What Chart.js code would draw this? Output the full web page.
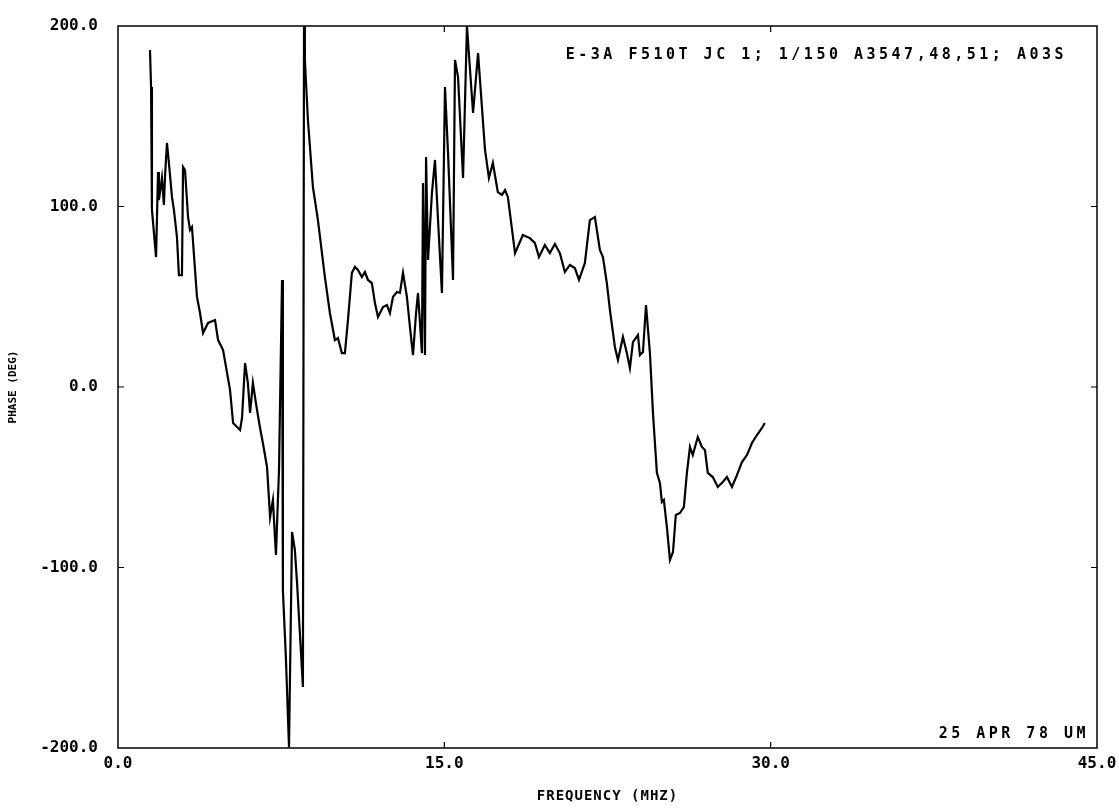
<!DOCTYPE html>
<html>
<head>
<meta charset="utf-8">
<script src="https://cdn.jsdelivr.net/npm/chart.js@4.4.1/dist/chart.umd.min.js"></script>
<style>
  html, body { margin: 0; padding: 0; background: #fff; }
  #wrap { width: 1119px; height: 808px; }
</style>
</head>
<body>
<div id="wrap"><canvas id="phaseChart" width="1119" height="808"></canvas></div>
<script>
// frequency (MHz) and phase (deg)
const freqs = [
  1.47, 1.52, 1.56, 1.75, 1.84, 1.88, 2.02, 2.11, 2.16, 2.25, 2.34, 2.48, 2.57, 2.71, 2.80, 2.94,
  2.99, 3.08, 3.22, 3.31, 3.40, 3.63, 3.77, 3.91, 4.14, 4.46, 4.60, 4.83, 5.15, 5.29, 5.61, 5.70,
  5.84, 5.97, 6.07, 6.20, 6.39, 6.53, 6.66, 6.85, 6.99, 7.12, 7.26, 7.40, 7.54, 7.58, 7.72, 7.86,
  8.00, 8.13, 8.23, 8.50, 8.55, 8.59, 8.73, 8.96, 9.19, 9.51, 9.74, 9.97, 10.11, 10.29, 10.43, 10.57,
  10.75, 10.89, 11.03, 11.21, 11.35, 11.49, 11.67, 11.81, 11.95, 12.18, 12.36, 12.50, 12.64, 12.82,
  12.96, 13.10, 13.28, 13.42, 13.56, 13.70, 13.79, 13.97, 14.02, 14.11, 14.16, 14.25, 14.43, 14.57,
  14.71, 14.89, 15.03, 15.17, 15.40, 15.49, 15.63, 15.86, 16.04, 16.32, 16.55, 16.87, 17.05, 17.23,
  17.46, 17.65, 17.79, 17.92, 18.25, 18.61, 18.93, 19.16, 19.35, 19.62, 19.85, 20.08, 20.31, 20.54,
  20.77, 21.00, 21.19, 21.46, 21.69, 21.92, 22.15, 22.29, 22.47, 22.61, 22.84, 22.98, 23.21, 23.39,
  23.53, 23.67, 23.90, 23.99, 24.13, 24.27, 24.45, 24.59, 24.77, 24.91, 25.00, 25.09, 25.23, 25.37,
  25.51, 25.64, 25.83, 26.01, 26.15, 26.29, 26.42, 26.65, 26.84, 26.98, 27.11, 27.34, 27.57, 27.80,
  27.99, 28.22, 28.45, 28.68, 28.91, 29.14, 29.37, 29.60, 29.73
];
const phases = [
  186.7, 166.2, 98.1, 72.0, 119.1, 103.6, 115.8, 100.8, 116.3, 135.2, 124.1, 105.3, 98.1, 83.1, 62.0, 62.0,
  121.9, 120.2, 94.2, 87.0, 88.6, 49.9, 41.0, 29.9, 35.5, 37.1, 26.0, 20.5, -1.7, -19.9, -23.8, -17.2,
  13.3, 2.2, -14.4, 2.2, -12.7, -22.7, -31.0, -44.3, -72.0, -62.6, -93.0, -46.0, 59.3, -112.5, -151.0, -199.5,
  -80.3, -90.3, -108.6, -166.2, 200.0, 181.2, 147.9, 110.8, 92.5, 60.9, 41.0, 26.0, 27.1, 18.8, 18.8, 37.1,
  63.2, 66.5, 64.8, 60.9, 63.7, 59.3, 57.6, 46.5, 38.8, 44.3, 45.4, 41.0, 49.9, 52.6,
  52.1, 63.2, 49.9, 33.2, 17.7, 41.0, 52.1, 18.8, 113.0, 17.7, 127.4, 70.4, 107.5, 125.8,
  92.5, 52.1, 166.2, 129.6, 59.3, 181.2, 171.7, 115.8, 200.0, 151.8, 185.0, 131.3, 115.8, 124.1,
  108.0, 106.4, 109.1, 105.3, 74.2, 84.2, 82.5, 79.8, 72.0, 78.7, 74.2, 79.2, 74.2, 63.7,
  67.6, 65.9, 59.3, 68.7, 92.5, 94.2, 75.9, 72.0, 57.6, 42.7, 22.2, 15.0, 27.7, 18.8,
  10.5, 24.9, 28.8, 17.7, 19.4, 45.4, 18.8, -14.4, -47.6, -53.2, -63.7, -62.6, -77.6, -95.8,
  -91.4, -70.9, -69.8, -66.5, -47.6, -33.2, -37.7, -27.7, -33.2, -34.9, -47.6, -49.9, -55.4, -52.6,
  -49.9, -55.4, -48.8, -41.6, -37.7, -31.0, -26.6, -22.7, -19.9
];

const xTickValues = [0, 15, 30, 45];
const yTickValues = [-200, -100, 0, 100, 200];

const titleText = 'E-3A F510T JC 1; 1/150 A3547,48,51; A03S';
const dateText = '25 APR 78 UM';
const xTitle = 'FREQUENCY (MHZ)';
const yTitle = 'PHASE (DEG)';

const points = freqs.map((f, i) => ({ x: f, y: phases[i] }));

const MONO = '"DejaVu Sans Mono", monospace';

// frame, inward ticks and the text annotations
const plotterDecor = {
  id: 'plotterDecor',
  afterDraw(chart) {
    const { ctx, chartArea: a, scales } = chart;
    const xs = scales.x, ys = scales.y;
    ctx.save();
    ctx.strokeStyle = '#000';
    ctx.lineWidth = 1.5;
    ctx.strokeRect(a.left, a.top, a.right - a.left, a.bottom - a.top);

    ctx.lineWidth = 1.2;
    ctx.beginPath();
    xTickValues.slice(1, -1).forEach(v => {
      const px = xs.getPixelForValue(v);
      ctx.moveTo(px, a.bottom); ctx.lineTo(px, a.bottom - 6);
      ctx.moveTo(px, a.top); ctx.lineTo(px, a.top + 6);
    });
    yTickValues.slice(1, -1).forEach(v => {
      const py = ys.getPixelForValue(v);
      ctx.moveTo(a.left, py); ctx.lineTo(a.left + 6, py);
      ctx.moveTo(a.right, py); ctx.lineTo(a.right - 6, py);
    });
    ctx.stroke();

    ctx.fillStyle = '#000';
    if ('letterSpacing' in ctx) ctx.letterSpacing = '3.5px';
    ctx.font = 'bold 15px ' + MONO;
    ctx.textAlign = 'right';
    ctx.textBaseline = 'middle';
    ctx.fillText(titleText, a.right - 30, a.top + 29);
    ctx.fillText(dateText, a.right - 8, a.bottom - 14);

    if ('letterSpacing' in ctx) ctx.letterSpacing = '1px';
    ctx.font = 'bold 14px ' + MONO;
    ctx.textAlign = 'center';
    ctx.fillText(xTitle, (a.left + a.right) / 2, 796);

    ctx.translate(13, (a.top + a.bottom) / 2);
    ctx.rotate(-Math.PI / 2);
    if ('letterSpacing' in ctx) ctx.letterSpacing = '0px';
    ctx.font = 'bold 11px ' + MONO;
    ctx.fillText(yTitle, 0, 0);
    ctx.restore();
  }
};

new Chart(document.getElementById('phaseChart').getContext('2d'), {
  type: 'line',
  data: {
    datasets: [{
      data: points,
      borderColor: '#000',
      borderWidth: 2.2,
      pointRadius: 0,
      tension: 0,
      fill: false
    }]
  },
  options: {
    responsive: false,
    animation: false,
    layout: { padding: { left: 0, right: 22, top: 26, bottom: 0 } },
    plugins: { legend: { display: false }, tooltip: { enabled: false } },
    scales: {
      x: {
        type: 'linear',
        min: 0,
        max: 45,
        afterBuildTicks: s => { s.ticks = xTickValues.map(v => ({ value: v })); },
        afterFit: s => { s.height = 60; s.paddingLeft = 0; s.paddingRight = 0; },
        grid: { display: false, drawTicks: false },
        border: { display: false },
        ticks: {
          padding: 6,
          color: '#000',
          font: { family: MONO, size: 16, weight: 'bold' },
          maxRotation: 0,
          callback: v => Number(v).toFixed(1)
        }
      },
      y: {
        min: -200,
        max: 200,
        afterBuildTicks: s => { s.ticks = yTickValues.map(v => ({ value: v })); },
        afterFit: s => { s.width = 118; s.paddingTop = 0; s.paddingBottom = 0; },
        grid: { display: false, drawTicks: false },
        border: { display: false },
        ticks: {
          padding: 20,
          color: '#000',
          font: { family: MONO, size: 16, weight: 'bold' },
          callback: v => Number(v).toFixed(1)
        }
      }
    }
  },
  plugins: [plotterDecor]
});
</script>
</body>
</html>
